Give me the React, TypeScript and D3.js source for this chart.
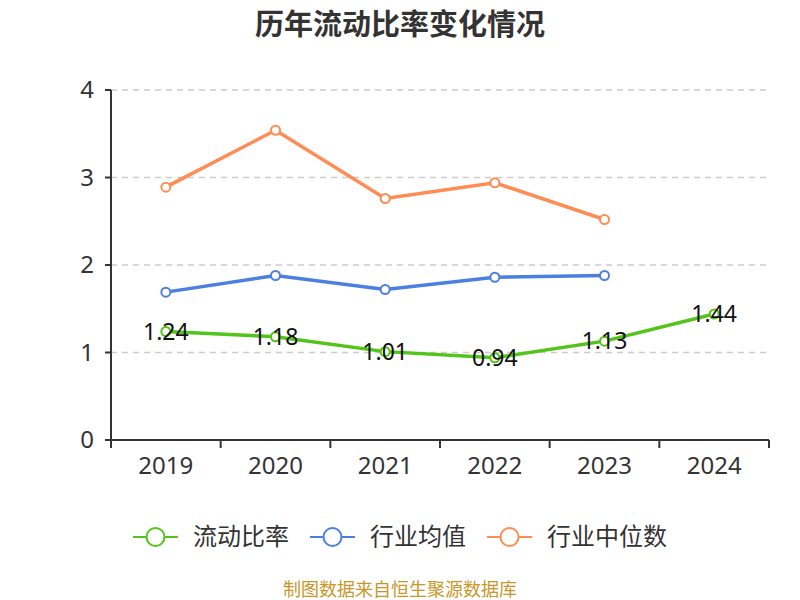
import React from 'react';
import * as d3 from 'd3';

const years = ['2019', '2020', '2021', '2022', '2023', '2024'];
const currentRatio = [1.24, 1.18, 1.01, 0.94, 1.13, 1.44];
const industryMean = [1.69, 1.88, 1.72, 1.86, 1.88];
const industryMedian = [2.89, 3.54, 2.76, 2.94, 2.52];
const yTicks = [0, 1, 2, 3, 4];

const GREEN = '#52c41a';
const BLUE = '#4b7fe0';
const ORANGE = '#ff8c55';
const FONT = '"Noto Sans", "Noto Sans CJK SC", sans-serif';

const series = [
  { name: '流动比率', color: GREEN, values: currentRatio },
  { name: '行业均值', color: BLUE, values: industryMean },
  { name: '行业中位数', color: ORANGE, values: industryMedian },
];

export default function App() {
  const width = 800;
  const height = 600;
  const margin = { top: 90, right: 31, bottom: 160, left: 111 };
  const innerW = width - margin.left - margin.right;
  const innerH = height - margin.top - margin.bottom;

  const x = d3.scaleBand<string>().domain(years).range([0, innerW]);
  const y = d3.scaleLinear().domain([0, 4]).range([innerH, 0]);
  const cx = (i: number) => (x(years[i]) ?? 0) + x.bandwidth() / 2;

  const line = d3
    .line<number>()
    .x((_, i) => cx(i))
    .y((d) => y(d));

  const legendX = [133, 310, 487];

  return (
    <svg width={width} height={height} style={{ position: 'absolute', left: 0, top: 0, fontFamily: FONT }}>
      <rect width={width} height={height} fill="#fff" />
      <text x={400} y={35} textAnchor="middle" fontSize={29} fontWeight="bold" fill="#333">
        历年流动比率变化情况
      </text>

      <g transform={`translate(${margin.left},${margin.top})`}>
        {/* grid */}
        {yTicks.filter((t) => t > 0).map((t) => (
          <line key={t} x1={0} x2={innerW} y1={y(t)} y2={y(t)} stroke="#ccc" strokeWidth={1.5} strokeDasharray="6,5" />
        ))}

        {/* y axis */}
        <line x1={0} x2={0} y1={0} y2={innerH} stroke="#333" strokeWidth={2} />
        {yTicks.map((t) => (
          <g key={t}>
            <line x1={-6} x2={0} y1={y(t)} y2={y(t)} stroke="#333" strokeWidth={2} />
            <text x={-17} y={y(t)} dy="0.35em" textAnchor="end" fontSize={24} fill="#333">
              {t}
            </text>
          </g>
        ))}

        {/* x axis */}
        <line x1={0} x2={innerW} y1={innerH} y2={innerH} stroke="#333" strokeWidth={2} />
        {years.map((yr, i) => (
          <g key={yr}>
            <line x1={x(yr) ?? 0} x2={x(yr) ?? 0} y1={innerH} y2={innerH + 8} stroke="#333" strokeWidth={2} />
            <text x={cx(i)} y={innerH + 26} dy="0.35em" textAnchor="middle" fontSize={24} fill="#333">
              {yr}
            </text>
          </g>
        ))}
        <line x1={innerW} x2={innerW} y1={innerH} y2={innerH + 8} stroke="#333" strokeWidth={2} />

        {/* series */}
        {series.map((s) => (
          <g key={s.name}>
            <path d={line(s.values) ?? ''} fill="none" stroke={s.color} strokeWidth={3.5} />
            {s.values.map((v, i) => (
              <circle key={i} cx={cx(i)} cy={y(v)} r={4.5} fill="#fff" stroke={s.color} strokeWidth={2} />
            ))}
          </g>
        ))}
        {currentRatio.map((v, i) => (
          <text key={i} x={cx(i)} y={y(v)} dy="0.35em" textAnchor="middle" fontSize={23} fill="#111">
            {v.toFixed(2)}
          </text>
        ))}
      </g>

      {/* legend */}
      {series.map((s, i) => (
        <g key={s.name} transform={`translate(${legendX[i]},537)`}>
          <line x1={0} x2={45} y1={0} y2={0} stroke={s.color} strokeWidth={2} />
          <circle cx={22.5} cy={0} r={9} fill="#fff" stroke={s.color} strokeWidth={2} />
          <text x={60} y={0} dy="0.35em" fontSize={24} fill="#333">
            {s.name}
          </text>
        </g>
      ))}

      <text x={400} y={590} dy="0.35em" textAnchor="middle" fontSize={18} fill="#c9962a">
        制图数据来自恒生聚源数据库
      </text>
    </svg>
  );
}
